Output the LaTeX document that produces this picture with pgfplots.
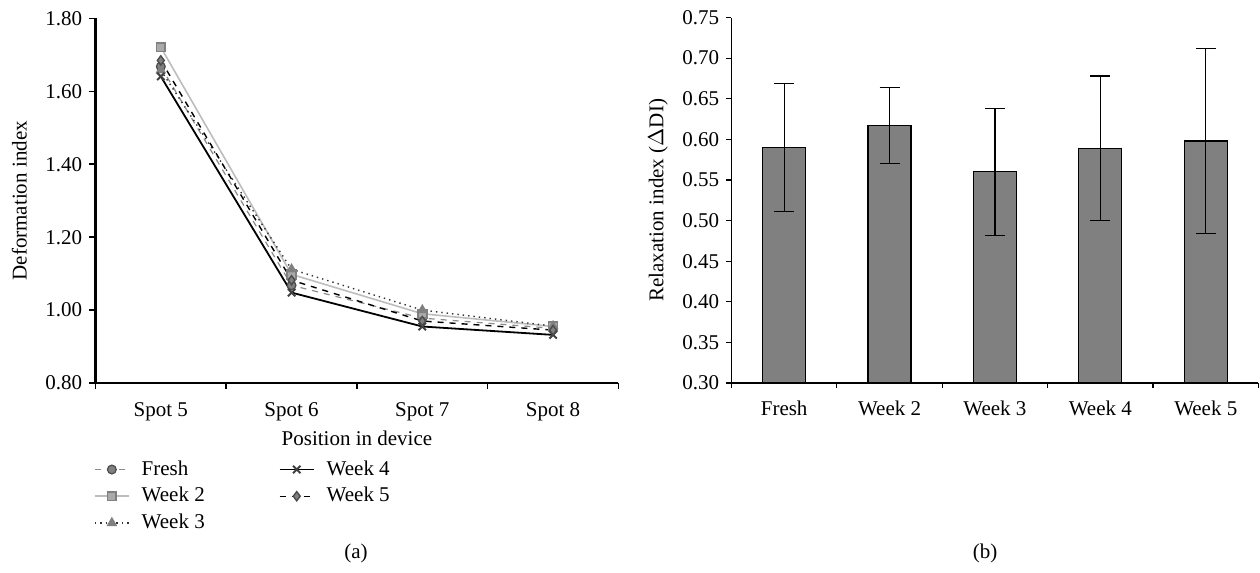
\documentclass[border=0pt]{standalone}
\usepackage{pgfplots}
\pgfplotsset{compat=1.18}
\usepackage{fontspec}
\setmainfont{Liberation Serif}
\definecolor{barg}{HTML}{808080}
\definecolor{lg}{HTML}{BDBDBD}
\definecolor{mg}{HTML}{8C8C8C}
\begin{document}
\fontsize{10.5}{12.5}\selectfont
\begin{tikzpicture}[x=0.5pt,y=0.5pt]
\pgfplotsset{
  common/.style={
    scale only axis,
    axis lines=left,
    /pgf/number format/assume math mode=true,
    yticklabel style={/pgf/number format/.cd, fixed, fixed zerofill, precision=2},
    tick label style={font=\fontsize{10.5}{12.5}\selectfont},
    label style={font=\fontsize{10.5}{12.5}\selectfont},
    major tick length=3pt,
    minor tick length=3pt,
    ytick pos=left,
    xtick pos=bottom,
    tick align=outside,
  }
}
\begin{axis}[common,
  at={(73,0)}, anchor=south west,
  width=261.5pt, height=182.25pt,
  axis line style={-, line width=1.3pt},
  tick style={black, line width=0.8pt},
  xmin=-0.5, xmax=3.5,
  ymin=0.8, ymax=1.8,
  ytick={0.8,1.0,...,1.81},
  xtick={0,1,2,3},
  xticklabels={Spot 5,Spot 6,Spot 7,Spot 8},
  major x tick style={draw=none},
  minor xtick={-0.5,0.5,1.5,2.5,3.5},
  xticklabel style={yshift=-3pt},
  xlabel={Position in device},
  ylabel={Deformation index},
  xlabel style={yshift=2pt},
  ylabel style={yshift=2pt},
  legend columns=3, transpose legend,
  legend style={draw=none, at={(-0.015,-0.19)}, anchor=north west,
    font=\fontsize{10.5}{12.5}\selectfont, column sep=4pt, row sep=0.5pt,
    /tikz/every even column/.append style={column sep=35pt}},
  legend cell align=left,
]
\addplot[mg, dashed, line width=0.6pt, mark=*, mark size=2.2pt, mark options={solid, fill=gray, draw=black!70}]
  coordinates {(0,1.668) (1,1.068) (2,0.978) (3,0.950)};
\addlegendentry{Fresh}
\addplot[lg, line width=0.8pt, mark=square*, mark size=2.2pt, mark options={solid, fill=lg!90!black, draw=gray}]
  coordinates {(0,1.721) (1,1.098) (2,0.990) (3,0.955)};
\addlegendentry{Week 2}
\addplot[black!80, dotted, line width=0.7pt, mark=triangle*, mark size=2.4pt, mark options={solid, fill=gray, draw=gray}]
  coordinates {(0,1.658) (1,1.112) (2,1.000) (3,0.956)};
\addlegendentry{Week 3}
\addplot[black, line width=0.9pt, mark=x, mark size=2.6pt, mark options={solid, line width=1pt, draw=black!75}]
  coordinates {(0,1.641) (1,1.048) (2,0.955) (3,0.932)};
\addlegendentry{Week 4}
\addplot[black, dashed, line width=0.7pt, mark=diamond*, mark size=2.3pt, mark options={solid, fill=gray, draw=black!70}]
  coordinates {(0,1.685) (1,1.082) (2,0.970) (3,0.945)};
\addlegendentry{Week 5}
\end{axis}

\begin{axis}[common,
  at={(694,0)}, anchor=south west,
  width=263.5pt, height=182.75pt,
  axis line style={-, line width=0.6pt},
  tick style={black, line width=0.6pt},
  major tick length=2.5pt, minor tick length=2.5pt,
  xmin=-0.5, xmax=4.5,
  ymin=0.30, ymax=0.75,
  ytick={0.30,0.35,...,0.751},
  xtick={0,1,2,3,4},
  xticklabels={Fresh,Week 2,Week 3,Week 4,Week 5},
  major x tick style={draw=none},
  minor xtick={-0.5,0.5,1.5,2.5,3.5,4.5},
  xticklabel style={yshift=-3pt},
  ylabel={Relaxation index ($\Delta$DI)},
  ylabel style={yshift=0pt},
]
\addplot[ybar, bar width=21.5pt, fill=barg, draw=black, line width=0.6pt,
  error bars/.cd, y dir=both, y explicit,
  error bar style={black, line width=0.6pt},
  error mark options={rotate=90, mark size=5pt, black, line width=0.6pt}]
  coordinates {
    (0,0.590) +- (0,0.079)
    (1,0.617) +- (0,0.047)
    (2,0.560) +- (0,0.078)
    (3,0.589) +- (0,0.089)
    (4,0.598) +- (0,0.114)
  };
\end{axis}
\node at (356,-170) {(a)};
\node at (985,-170) {(b)};
\pgfresetboundingbox
\path (0,-190) rectangle (1260,383);
\end{tikzpicture}
\end{document}
